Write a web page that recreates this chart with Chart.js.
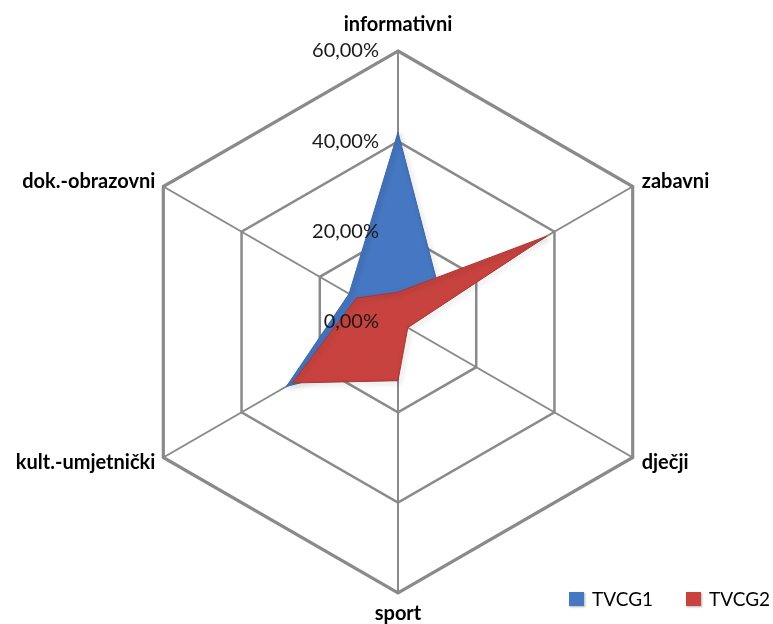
<!DOCTYPE html>
<html><head><meta charset="utf-8">
<script src="https://cdn.jsdelivr.net/npm/chart.js@4/dist/chart.umd.min.js"></script>
<style>html,body{margin:0;padding:0;background:#fff}#wrap{width:773px;height:624px}</style>
</head><body><div id="wrap"><canvas id="c" width="773" height="624"></canvas></div>
<script>
const categories = ['informativni', 'zabavni', 'dječji', 'sport', 'kult.-umjetnički', 'dok.-obrazovni'];
const tvcg1 = [42, 11, 1, 8, 28.5, 12.5];
const tvcg2 = [6.6, 38, 2.5, 13, 27, 10.6];
const seriesNames = ['TVCG1', 'TVCG2'];
const seriesColors = ['#4677c2', '#c8433f'];
const tickValues = [0, 20, 40, 60];
const tickLabels = ['0,00%', '20,00%', '40,00%', '60,00%'];

const labelsPlugin = {
  id: 'labelsPlugin',
  beforeDatasetDraw(chart) {
    const ctx = chart.ctx;
    ctx.save();
    ctx.shadowColor = 'rgba(0,0,0,0.35)';
    ctx.shadowBlur = 5;
    ctx.shadowOffsetX = 2;
    ctx.shadowOffsetY = 2;
  },
  afterDatasetDraw(chart) { chart.ctx.restore(); },
  afterDraw(chart) {
    const ctx = chart.ctx;
    const s = chart.scales.r;
    ctx.save();
    // tick labels
    ctx.fillStyle = '#1a1a1a';
    ctx.font = '20px Lato';
    ctx.textAlign = 'right';
    ctx.textBaseline = 'middle';
    tickValues.forEach((v, i) => {
      const d = s.getDistanceFromCenterForValue(v);
      ctx.fillText(tickLabels[i], s.xCenter - 19, s.yCenter - d);
    });
    // category labels
    ctx.fillStyle = '#000';
    ctx.font = 'bold 20px Lato';
    ctx.textBaseline = 'alphabetic';
    categories.forEach((c, i) => {
      const p = s.getPointPosition(i, s.drawingArea);
      const dx = p.x - s.xCenter;
      let x = p.x, y;
      if (Math.abs(dx) < 1) {
        ctx.textAlign = 'center';
        y = p.y < s.yCenter ? p.y - 20 : p.y + 27;
      } else {
        ctx.textAlign = dx > 0 ? 'left' : 'right';
        x = dx > 0 ? p.x + 9 : p.x - 8;
        y = p.y < s.yCenter ? p.y + 1 : p.y + 11;
      }
      ctx.fillText(c, x, y);
    });
    // legend
    ctx.font = '19px Lato';
    ctx.textAlign = 'left';
    ctx.textBaseline = 'middle';
    const lx = [569, 686];
    chart.data.datasets.forEach((ds, i) => {
      ctx.fillStyle = ds.backgroundColor;
      ctx.shadowColor = 'rgba(0,0,0,0.3)';
      ctx.shadowBlur = 2; ctx.shadowOffsetX = 1; ctx.shadowOffsetY = 1;
      ctx.fillRect(lx[i], 592, 15, 14);
      ctx.shadowColor = 'transparent';
      ctx.fillStyle = '#000';
      ctx.fillText(ds.label, lx[i] + 23, 600);
    });
    ctx.restore();
  }
};

new Chart(document.getElementById('c'), {
  type: 'radar',
  data: {
    labels: categories,
    datasets: [
      { label: seriesNames[0], data: tvcg1, backgroundColor: seriesColors[0], borderColor: '#3a66a8', borderWidth: 1, pointRadius: 0, fill: true, order: 1 },
      { label: seriesNames[1], data: tvcg2, backgroundColor: seriesColors[1], borderColor: '#a83532', borderWidth: 1, pointRadius: 0, fill: true, order: 0 }
    ]
  },
  options: {
    responsive: false,
    animation: false,
    devicePixelRatio: 1,
    layout: { padding: { left: 23, right: 0, top: 51, bottom: 31 } },
    plugins: { legend: { display: false }, tooltip: { enabled: false } },
    elements: { line: { tension: 0 } },
    scales: {
      r: {
        min: 0, max: 60,
        ticks: { display: false, stepSize: 20 },
        pointLabels: { display: false },
        grid: { color: '#8a8a8a', lineWidth: (c) => c.index === 3 ? 3.2 : 2.5 },
        angleLines: { color: '#8a8a8a', lineWidth: 2 }
      }
    }
  },
  plugins: [labelsPlugin]
});
</script></body></html>
